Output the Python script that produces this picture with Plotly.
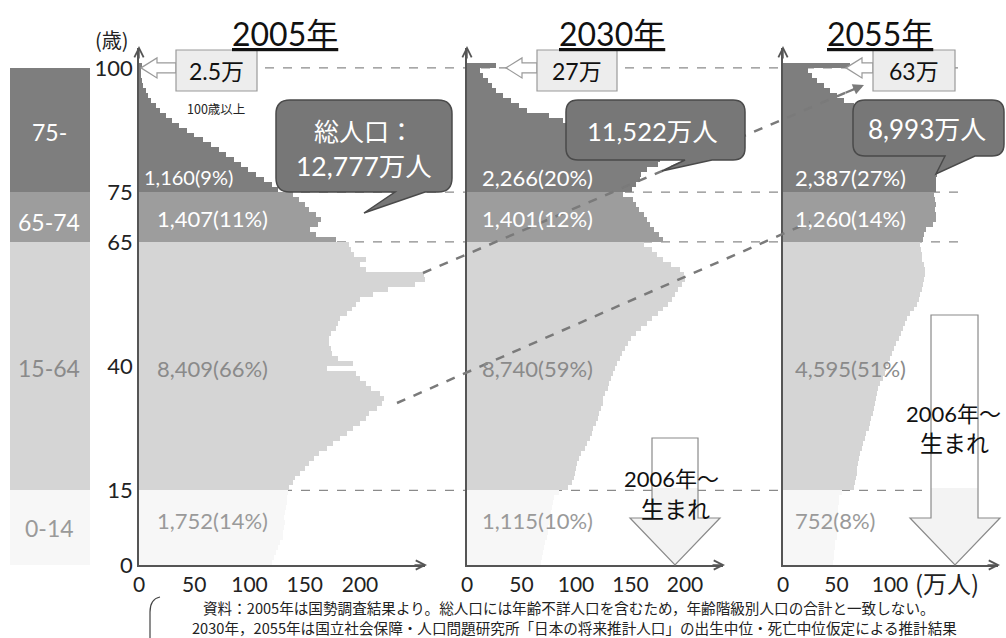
import plotly.graph_objects as go

W, H = 1006, 638

# ---------------- data (万人, single years of age; index 100 = 100歳以上) ----------------
ages = list(range(101))
pop_2005 = [120, 122, 124, 126, 128, 130, 130, 131, 132, 131, 132, 133, 134, 134, 135,
            136, 139, 141, 146, 150, 154, 158, 163, 170, 176,
            182, 188, 194, 200, 205, 208, 215, 220, 222, 218,
            210, 205, 200, 196, 170, 194, 180, 175, 174, 172,
            172, 174, 178, 180, 182, 188, 193, 196, 200, 212,
            225, 250, 262, 258, 205, 200, 205, 195, 192, 190,
            178, 160, 155, 162, 165, 160, 154, 150, 145, 139,
            126, 120, 113, 106, 99, 92, 86, 79, 72, 65,
            58, 50, 43, 36, 30, 24, 19, 15, 11, 8,
            6, 4, 3, 2, 1.5,
            2.5]
pop_2030 = [68, 69, 70, 71, 72, 73, 74, 74, 75, 76, 77, 78, 79, 80, 84,
            93, 96, 98, 99, 100, 101, 103, 105, 108, 110,
            113, 115, 116, 118, 120, 121, 123, 125, 125, 127,
            129, 130, 132, 134, 136, 138, 140, 142, 145, 148,
            150, 155, 160, 165, 170, 175, 180, 184, 188, 191,
            194, 197, 200, 199, 195, 187, 180, 174, 170, 162,
            180, 176, 172, 168, 165, 162, 158, 155, 152, 143,
            151, 155, 159, 160, 165, 175, 177, 172, 155, 145,
            135, 125, 112, 100, 88, 75, 55, 48, 40, 33,
            27, 23, 19, 15, 12,
            27]
pop_2055 = [47, 48, 48, 49, 49, 50, 50, 50, 50, 51, 51, 51, 52, 52, 55,
            66, 67, 68, 69, 69, 70, 71, 72, 74, 75,
            77, 78, 80, 81, 82, 84, 85, 86, 87, 88,
            89, 91, 93, 95, 96, 98, 100, 102, 104, 106,
            108, 110, 112, 114, 116, 119, 122, 125, 127, 128,
            130, 131, 132, 133, 133, 132, 130, 130, 129, 128,
            131, 132, 134, 140, 143, 143, 142, 143, 142, 141,
            143, 143, 143, 144, 146, 150, 152, 150, 140, 135,
            128, 120, 110, 100, 90, 82, 74, 66, 57, 50,
            44, 38, 32, 27, 23,
            63]
populations = [pop_2005, pop_2030, pop_2055]
years = ["2005年", "2030年", "2055年"]
group_names = ["0-14", "15-64", "65-74", "75-"]
group_edges = [0, 15, 65, 75, 100]
group_labels = [
    ["1,752(14%)", "8,409(66%)", "1,407(11%)", "1,160(9%)"],
    ["1,115(10%)", "8,740(59%)", "1,401(12%)", "2,266(20%)"],
    ["752(8%)", "4,595(51%)", "1,260(14%)", "2,387(27%)"],
]
total_labels = [["総人口：", "12,777万人"], ["11,522万人"], ["8,993万人"]]
centenarian_labels = ["2.5万", "27万", "63万"]
age_ticks = [0, 15, 40, 65, 75, 100]
x_ticks = [[0, 50, 100, 150, 200], [0, 50, 100, 150, 200], [0, 50, 100]]

# ---------------- styling / layout (pixels) ----------------
FONT = "Lato, 'Noto Sans CJK JP', sans-serif"
JP = "'Noto Sans CJK JP', sans-serif"
group_colors = ["#f7f7f7", "#d5d5d5", "#9d9d9d", "#7e7e7e"]
group_text_colors = ["#9a9a9a", "#8a8a8a", "white", "white"]
PANEL_X = [(139, 425), (467, 723), (783, 998)]
PANEL_SCALE = [1.105, 1.09, 1.07]
Y0, Y1 = 565, 48
YMAX = 104.0
PPY = (Y0 - Y1) / YMAX


def fx(x):
    return x / W


def fy(y):
    return 1 - y / H


def age_py(a):
    return Y0 - a * PPY


def pts_path(pts, close=True):
    s = "M " + " L ".join(f"{fx(x):.5f},{fy(y):.5f}" for x, y in pts)
    return s + (" Z" if close else "")


def group_of(a):
    for g in range(4):
        if a < group_edges[g + 1] or g == 3:
            return g


fig = go.Figure()

# left age-group band
fig.add_trace(go.Bar(
    x=[0.5] * 4,
    y=[group_edges[g + 1] - group_edges[g] for g in range(4)],
    base=group_edges[:4],
    width=1, marker=dict(color=group_colors, line=dict(width=0)),
    xaxis="x4", yaxis="y4", showlegend=False, hoverinfo="skip"))

# pyramids
for i, pop in enumerate(populations):
    xa = "x" if i == 0 else f"x{i + 1}"
    ya = "y" if i == 0 else f"y{i + 1}"
    for g in range(4):
        sel = [a for a in ages if group_of(a) == g]
        fig.add_trace(go.Bar(
            orientation="h",
            x=[pop[a] for a in sel],
            y=[a + 0.5 for a in sel],
            width=1,
            marker=dict(color=group_colors[g], line=dict(width=0)),
            xaxis=xa, yaxis=ya, showlegend=False,
            name=f"{years[i]} {group_names[g]}"))

layout = dict(
    width=W, height=H, margin=dict(l=0, r=0, t=0, b=0, pad=0), autosize=False,
    paper_bgcolor="white", plot_bgcolor="rgba(0,0,0,0)",
    barmode="overlay", bargap=0, showlegend=False,
    font=dict(family=FONT, color="#222"),
)
for i in range(3):
    x0, x1 = PANEL_X[i]
    xr = (x1 - x0) / PANEL_SCALE[i]
    key = "xaxis" if i == 0 else f"xaxis{i + 1}"
    ykey = "yaxis" if i == 0 else f"yaxis{i + 1}"
    layout[key] = dict(
        domain=[fx(x0), fx(x1)], range=[0, xr], anchor="y" if i == 0 else f"y{i + 1}",
        automargin=False,
        showgrid=False, zeroline=False, showline=True, linecolor="#555", linewidth=1.5,
        tickmode="array", tickvals=x_ticks[i], ticks="", ticklen=0,
        tickfont=dict(family=FONT, size=21, color="#222"), fixedrange=True)
    layout[ykey] = dict(
        domain=[fy(Y0), fy(Y1)], range=[0, YMAX], anchor="x" if i == 0 else f"x{i + 1}",
        automargin=False,
        showgrid=False, zeroline=False, showline=True, linecolor="#555", linewidth=1.5,
        tickmode="array", tickvals=age_ticks, ticks="", showticklabels=(i == 0),
        tickfont=dict(family=FONT, size=22, color="#222"), fixedrange=True)
layout["xaxis4"] = dict(domain=[fx(10), fx(90)], range=[0, 1], visible=False,
                        fixedrange=True, automargin=False, anchor="y4")
layout["yaxis4"] = dict(domain=[fy(Y0), fy(Y1)], range=[0, YMAX], anchor="x4",
                        visible=False, fixedrange=True, automargin=False)
fig.update_layout(**layout)

shapes = []
ann = []


def text(x, y, s, size, color="#222", family=FONT, xanchor="center"):
    ann.append(dict(x=fx(x), y=fy(y), xref="paper", yref="paper", text=s, showarrow=False,
                    xanchor=xanchor, yanchor="middle",
                    font=dict(family=family, size=size, color=color)))


# horizontal dashed guides at group boundaries (below the bars)
for a in [15, 65, 75, 100]:
    shapes.append(dict(type="line", xref="paper", yref="paper", layer="below",
                       x0=fx(139), x1=fx(965), y0=fy(age_py(a)), y1=fy(age_py(a)),
                       line=dict(color="#8a8a8a", width=1.3, dash="dash")))

# cohort dashed diagonals
shapes.append(dict(type="line", xref="paper", yref="paper",
                   x0=fx(397), y0=fy(403), x1=fx(810), y1=fy(222),
                   line=dict(color="#7a7a7a", width=2.5, dash="dash")))
shapes.append(dict(type="line", xref="paper", yref="paper",
                   x0=fx(423), y0=fy(273), x1=fx(860), y1=fy(86.5),
                   line=dict(color="#7a7a7a", width=2.5, dash="dash")))
ann.append(dict(x=fx(864), y=fy(85), xref="paper", yref="paper", text="", showarrow=True,
                ax=-20, ay=8.5, arrowhead=2, arrowsize=1, arrowwidth=2.2, arrowcolor="#7a7a7a"))

# axis arrowheads
for i in range(3):
    x0, x1 = PANEL_X[i]
    ann.append(dict(x=fx(x0), y=fy(Y1 - 2), xref="paper", yref="paper", text="", showarrow=True,
                    ax=0, ay=14, arrowhead=5, arrowsize=1.3, arrowwidth=1.4, arrowcolor="#555"))
    ann.append(dict(x=fx(x1 + 2), y=fy(Y0), xref="paper", yref="paper", text="", showarrow=True,
                    ax=-14, ay=0, arrowhead=5, arrowsize=1.3, arrowwidth=1.4, arrowcolor="#555"))

# centenarian boxes with hollow left arrows
cent_boxes = [(176, 257), (537, 617), (873, 955)]
cent_tips = [141, 506, 846]
for i in range(3):
    bx0, bx1 = cent_boxes[i]
    tip = cent_tips[i]
    ty = age_py(100)
    hb = tip + 16
    shapes.append(dict(type="path", xref="paper", yref="paper",
                       path=pts_path([(tip, ty), (hb, ty - 10), (hb, ty - 5), (bx0, ty - 5),
                                      (bx0, ty + 5), (hb, ty + 5), (hb, ty + 10)]),
                       fillcolor="white", line=dict(color="#9a9a9a", width=1.2)))
    shapes.append(dict(type="rect", xref="paper", yref="paper",
                       x0=fx(bx0), x1=fx(bx1), y0=fy(91), y1=fy(50),
                       fillcolor="#ededed", line=dict(color="#9a9a9a", width=1.2)))
    text((bx0 + bx1) / 2, 71, centenarian_labels[i], 23, "#111")
text(216, 109, "100歳以上", 12.5, "#222", JP)


# total-population callouts (rounded boxes with tails)
def callout(x0, y0, x1, y1, r, bx0, bx1, tx, ty):
    def p(x, y):
        return f"{fx(x):.5f},{fy(y):.5f}"
    return (f"M {p(x0 + r, y0)} L {p(x1 - r, y0)} Q {p(x1, y0)} {p(x1, y0 + r)} "
            f"L {p(x1, y1 - r)} Q {p(x1, y1)} {p(x1 - r, y1)} L {p(bx1, y1)} L {p(tx, ty)} "
            f"L {p(bx0, y1)} L {p(x0 + r, y1)} Q {p(x0, y1)} {p(x0, y1 - r)} "
            f"L {p(x0, y0 + r)} Q {p(x0, y0)} {p(x0 + r, y0)} Z")


callouts = [
    (276, 100, 452, 192, 14, 395, 425, 364, 213),
    (566, 100, 745, 160, 12, 685, 712, 662, 171),
    (853, 100, 1004, 156, 12, 945, 975, 936, 174),
]
for c in callouts:
    shapes.append(dict(type="path", xref="paper", yref="paper", path=callout(*c),
                       fillcolor="#777777", line=dict(color="#4a4a4a", width=1.5)))
text(364, 130, total_labels[0][0], 25, "white", JP)
text(364, 166, total_labels[0][1], 26.5, "white")
text(652, 131, total_labels[1][0], 25.5, "white")
text(927, 129, total_labels[2][0], 26, "white")

# "2006年～生まれ" down block arrows
down_arrows = [(652, 698, 438, 518, 630, 720, 675), (931, 978, 315, 518, 910, 1000, 955)]
for (s0, s1, top, hy, h0, h1, tipx) in down_arrows:
    outline = [(s0, top), (s1, top), (s1, hy), (h1, hy), (tipx, Y0), (h0, hy), (s0, hy)]
    shapes.append(dict(type="path", xref="paper", yref="paper", path=pts_path(outline),
                       fillcolor="white", line=dict(width=0)))
    shapes.append(dict(type="path", xref="paper", yref="paper",
                       path=pts_path([(s0, hy - 30), (s1, hy - 30), (s1, hy), (h1, hy), (tipx, Y0), (h0, hy), (s0, hy)]),
                       fillcolor="#f3f3f3", line=dict(width=0)))
    shapes.append(dict(type="path", xref="paper", yref="paper", path=pts_path(outline),
                       fillcolor="rgba(0,0,0,0)", line=dict(color="#8a8a8a", width=1.2)))
text(671, 478, "2006年～", 22, "#111")
text(675, 508, "生まれ", 23, "#111", JP)
text(953, 413, "2006年～", 22, "#111")
text(954, 442, "生まれ", 23, "#111", JP)

# titles
title_x = [285, 612, 880]
for i in range(3):
    text(title_x[i], 34, f"<u>{years[i]}</u>", 32, "#111")

# group labels inside pyramids
label_y = [520, 368, 218, 177]
label_x = [[155, 155, 155, 142], [480, 480, 480, 480], [793, 793, 793, 793]]
for i in range(3):
    for g in range(4):
        size = 20 if (i == 0 and g == 3) else 22
        text(label_x[i][g], label_y[g], group_labels[i][g], size, group_text_colors[g],
             xanchor="left")

# left band labels
band_label_y = [528, 368, 222, 132]
for g in range(4):
    text(49, band_label_y[g], group_names[g], 23, group_text_colors[g])

text(112, 40, "(歳)", 20, "#222", JP)
text(947, 582, "(万人)", 24, "#222", JP)

# source note
text(569, 607, "資料：2005年は国勢調査結果より。総人口には年齢不詳人口を含むため，年齢階級別人口の合計と一致しない。",
     14.6, "#222", JP)
text(574, 627, "2030年，2055年は国立社会保障・人口問題研究所「日本の将来推計人口」の出生中位・死亡中位仮定による推計結果",
     14.6, "#222", JP)
shapes.append(dict(type="path", xref="paper", yref="paper",
                   path=f"M {fx(160):.5f},{fy(597):.5f} Q {fx(150):.5f},{fy(599):.5f} {fx(150):.5f},{fy(612):.5f} L {fx(150):.5f},{fy(638):.5f}",
                   line=dict(color="#444", width=1.2)))

fig.update_layout(shapes=shapes, annotations=ann)
fig.write_html("out.html")
